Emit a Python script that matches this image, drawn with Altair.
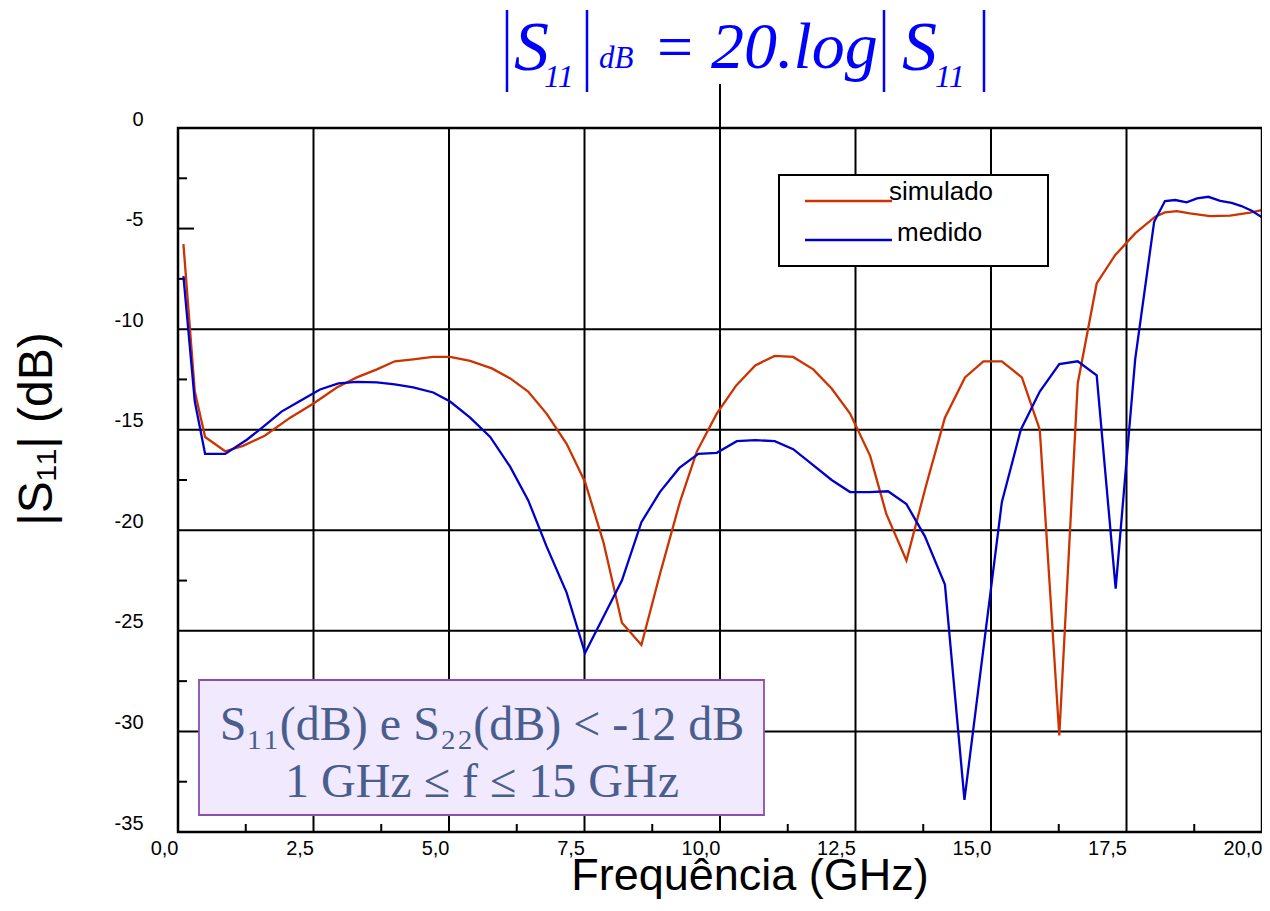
import altair as alt
import pandas as pd

# ---------------- data ----------------
sim_freq = [0.1, 0.31, 0.5, 0.87, 1.2, 1.6, 2.07, 2.5, 2.93, 3.3, 3.67, 4.0, 4.34, 4.7,
            5.02, 5.39, 5.79, 6.13, 6.46, 6.8, 7.17, 7.51, 7.85, 8.19, 8.55, 8.89, 9.26,
            9.57, 9.94, 10.3, 10.65, 11.01, 11.35, 11.72, 12.06, 12.4, 12.77, 13.07,
            13.44, 13.81, 14.15, 14.52, 14.86, 15.2, 15.57, 15.9, 16.26, 16.6, 16.95,
            17.29, 17.66, 18.03, 18.21, 18.43, 18.67, 19.04, 19.41, 19.78, 20.0]
sim_db = [-5.77, -13.1, -15.36, -16.07, -15.8, -15.3, -14.4, -13.7, -12.9, -12.4, -12.0,
          -11.6, -11.5, -11.38, -11.38, -11.58, -11.95, -12.45, -13.1, -14.2, -15.7,
          -17.6, -20.6, -24.6, -25.7, -22.2, -18.6, -16.1, -14.2, -12.8, -11.8, -11.33,
          -11.38, -12.0, -12.95, -14.2, -16.3, -19.2, -21.5, -17.7, -14.4, -12.4, -11.6,
          -11.6, -12.4, -15.0, -30.2, -12.7, -7.73, -6.32, -5.24, -4.41, -4.2, -4.13,
          -4.25, -4.38, -4.36, -4.21, -4.08]

med_freq = [0.1, 0.31, 0.5, 0.87, 1.27, 1.57, 1.91, 2.25, 2.62, 2.96, 3.3, 3.67, 4.0,
            4.34, 4.71, 5.02, 5.39, 5.76, 6.13, 6.46, 6.8, 7.17, 7.51, 8.19, 8.55, 8.89,
            9.25, 9.6, 9.94, 10.31, 10.65, 11.01, 11.35, 11.69, 12.06, 12.4, 12.75, 13.1,
            13.44, 13.78, 14.15, 14.51, 15.2, 15.55, 15.9, 16.26, 16.6, 16.95, 17.3,
            17.66, 18.01, 18.21, 18.4, 18.61, 18.8, 19.01, 19.23, 19.44, 19.62, 19.81, 20.0]
med_db = [-7.36, -13.6, -16.2, -16.2, -15.5, -14.86, -14.1, -13.57, -13.0, -12.7, -12.62,
          -12.65, -12.75, -12.9, -13.15, -13.6, -14.4, -15.36, -16.85, -18.5, -20.8,
          -23.1, -26.1, -22.5, -19.6, -18.1, -16.9, -16.2, -16.15, -15.57, -15.52,
          -15.57, -15.97, -16.7, -17.5, -18.1, -18.1, -18.06, -18.7, -20.3, -22.7,
          -33.4, -18.6, -15.0, -13.1, -11.74, -11.6, -12.3, -22.9, -11.5, -4.66, -3.63,
          -3.58, -3.7, -3.5, -3.42, -3.62, -3.72, -3.88, -4.11, -4.44]

series_names = ["simulado", "medido"]
series_colors = ["#CC3300", "#0000CC"]

x_ticks = [0, 2.5, 5, 7.5, 10, 12.5, 15, 17.5, 20]
y_ticks = [0, -5, -10, -15, -20, -25, -30, -35]
grid_x = [2.5, 5, 7.5, 10, 12.5, 15, 17.5]
grid_y = [-10, -15, -20, -25, -30]
minor_x = [1.25, 3.75, 6.25, 8.75, 11.25, 13.75, 16.25, 18.75]
minor_y = [-2.5, -7.5, -12.5, -17.5, -22.5, -27.5, -32.5]
major_y_nogrid = [-5]
title_line_x = [10]

# ---------------- layout ----------------
W, H = 1084, 704
SANS = "Liberation Sans"
SERIF = "Liberation Serif"
BLUE_T = "#0000FF"
BOX_TXT = "#4A5E8E"

df = pd.concat([
    pd.DataFrame({"freq": sim_freq, "db": sim_db, "serie": series_names[0]}),
    pd.DataFrame({"freq": med_freq, "db": med_db, "serie": series_names[1]}),
])

xs = alt.Scale(domain=[0, 20], nice=False, zero=False)
ys = alt.Scale(domain=[-35, 0], nice=False, zero=False)

x_axis = alt.Axis(values=x_ticks,
                  labelExpr="replace(format(datum.value, '.1f'), '.', ',')",
                  labelAlign="right", labelBaseline="top", labelPadding=6,
                  labelFontSize=20, labelFont=SANS, labelColor="black",
                  labelFlush=False, labelOverlap=False,
                  ticks=False, domain=False, grid=False, title=None)
y_axis = alt.Axis(values=y_ticks, labelExpr="'' + datum.value",
                  labelAlign="right", labelBaseline="middle", labelPadding=35,
                  labelOffset=-9, labelFontSize=20, labelFont=SANS,
                  labelColor="black", labelFlush=False, labelOverlap=False,
                  ticks=False, domain=False, grid=False, title=None)

# gridlines
gx = alt.Chart(pd.DataFrame({"v": grid_x})).mark_rule(color="black", strokeWidth=2).encode(
    x=alt.X("v:Q", scale=xs, axis=x_axis))
gy = alt.Chart(pd.DataFrame({"v": grid_y})).mark_rule(color="black", strokeWidth=2).encode(
    y=alt.Y("v:Q", scale=ys, axis=y_axis))

# inward ticks
tx = alt.Chart(pd.DataFrame({"v": minor_x})).mark_rule(color="black", strokeWidth=2).encode(
    x=alt.X("v:Q", scale=xs), y=alt.value(H), y2=alt.value(H - 8))
ty = alt.Chart(pd.DataFrame({"v": minor_y})).mark_rule(color="black", strokeWidth=2).encode(
    y=alt.Y("v:Q", scale=ys), x=alt.value(0), x2=alt.value(9))
ty5 = alt.Chart(pd.DataFrame({"v": major_y_nogrid})).mark_rule(color="black", strokeWidth=2).encode(
    y=alt.Y("v:Q", scale=ys), x=alt.value(0), x2=alt.value(16))

# line from the formula down to the frame
tline = alt.Chart(pd.DataFrame({"v": title_line_x})).mark_rule(color="black", strokeWidth=2).encode(
    x=alt.X("v:Q", scale=xs), y=alt.value(-44), y2=alt.value(0))

# annotation box
box = alt.Chart().mark_rect(fill="#F1E9FD", stroke="#8A4FB0", strokeWidth=1.8).encode(
    x=alt.value(21), x2=alt.value(586), y=alt.value(552), y2=alt.value(687))
box_t1 = alt.Chart().mark_text(text="S₁₁(dB) e S₂₂(dB) < -12 dB", font=SERIF, fontSize=48,
                               color=BOX_TXT, align="center", baseline="alphabetic").encode(
    x=alt.value(304), y=alt.value(612))
box_t2 = alt.Chart().mark_text(text="1 GHz ≤ f ≤ 15 GHz", font=SERIF, fontSize=48,
                               color=BOX_TXT, align="center", baseline="alphabetic").encode(
    x=alt.value(304), y=alt.value(669))

# data lines
lines = alt.Chart(df).mark_line(strokeWidth=2.3).encode(
    x=alt.X("freq:Q", scale=xs),
    y=alt.Y("db:Q", scale=ys),
    color=alt.Color("serie:N", scale=alt.Scale(domain=series_names, range=series_colors),
                    legend=None),
)

# plot frame
frame = alt.Chart().mark_rect(fillOpacity=0, stroke="black", strokeWidth=2.5).encode(
    x=alt.value(0), x2=alt.value(W), y=alt.value(0), y2=alt.value(H))

# legend (drawn by hand)
leg_box = alt.Chart().mark_rect(fill="white", stroke="black", strokeWidth=2).encode(
    x=alt.value(601), x2=alt.value(870), y=alt.value(47), y2=alt.value(138))
leg_layers = [leg_box]
leg_line_y = [73, 112]
leg_text_x = [711, 719]
leg_text_y = [72, 113]
for i, name in enumerate(series_names):
    leg_layers.append(alt.Chart().mark_rule(color=series_colors[i], strokeWidth=2.5).encode(
        x=alt.value(627), x2=alt.value(714), y=alt.value(leg_line_y[i])))
    leg_layers.append(alt.Chart().mark_text(text=name, font=SANS, fontSize=26, color="black",
                                            align="left", baseline="alphabetic").encode(
        x=alt.value(leg_text_x[i]), y=alt.value(leg_text_y[i])))

# formula title
def ttext(txt, x, y, size, italic=True, align="left"):
    kw = dict(text=txt, font=SERIF, fontSize=size, color=BLUE_T, align=align,
              baseline="alphabetic")
    if italic:
        kw["fontStyle"] = "italic"
    return alt.Chart().mark_text(**kw).encode(x=alt.value(x), y=alt.value(y))

title_layers = [
    ttext("S", 336, -58, 70),
    ttext("11", 366, -41, 32),
    ttext("dB", 421, -60, 31),
    ttext("=", 497, -60, 64, italic=False, align="center"),
    ttext("20.log", 533, -60, 66),
    ttext("S", 724, -58, 70),
    ttext("11", 757, -41, 32),
]
for bx in [329, 409, 706, 806]:
    title_layers.append(alt.Chart().mark_rule(color=BLUE_T, strokeWidth=2.5).encode(
        x=alt.value(bx), y=alt.value(-118), y2=alt.value(-36)))

# axis titles
ytitle = alt.Chart().mark_text(text="|S₁₁| (dB)", font=SANS, fontSize=48, color="black",
                               angle=270, align="center", baseline="alphabetic").encode(
    x=alt.value(-126), y=alt.value(301))
xtitle = alt.Chart().mark_text(text="Frequência (GHz)", font=SANS, fontSize=45, color="black",
                               align="center", baseline="alphabetic").encode(
    x=alt.value(572), y=alt.value(762))

chart = alt.layer(
    gx, gy, tx, ty, ty5, tline, box, box_t1, box_t2, lines, frame, *leg_layers,
    *title_layers, ytitle, xtitle
).properties(
    width=W, height=H,
    autosize=alt.AutoSizeParams(type="none"),
    padding={"left": 170, "top": 120, "right": 0, "bottom": 68},
).configure_view(
    strokeWidth=0
).configure(background="white")

chart.save("out.html", embed_options={"renderer": "svg", "actions": False})
